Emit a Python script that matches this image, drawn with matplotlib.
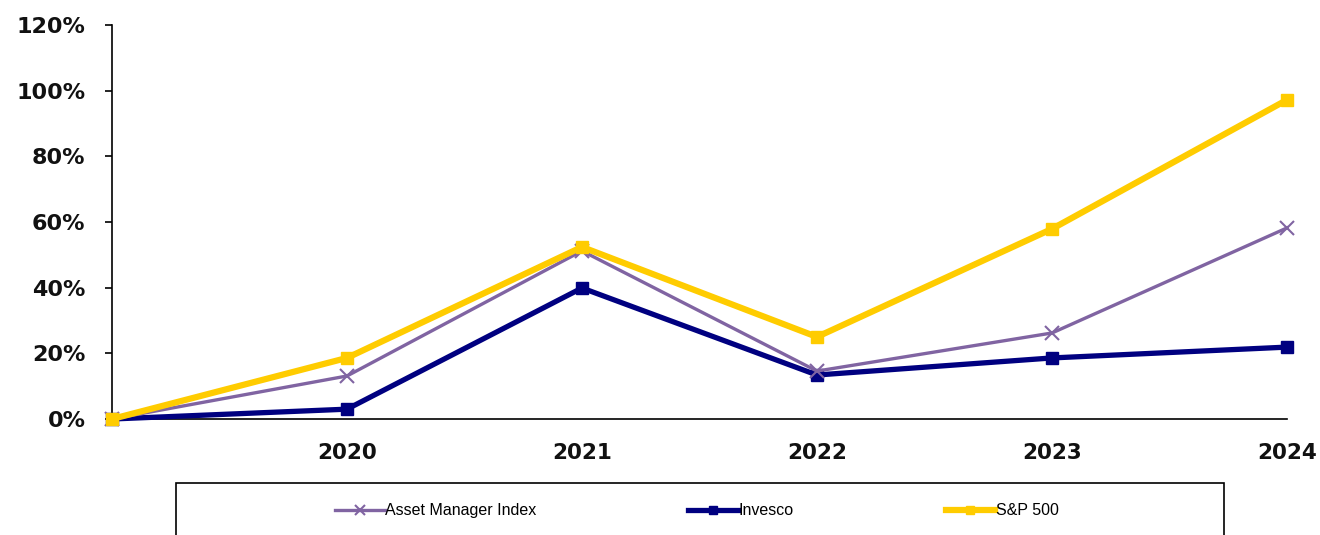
import numpy as np
import matplotlib.pyplot as plt
from matplotlib.patches import Rectangle
from matplotlib.ticker import PercentFormatter

# ---------------- datos ----------------
anios = [2019, 2020, 2021, 2022, 2023, 2024]
etiquetas_x = ['', '2020', '2021', '2022', '2023', '2024']
asset_mgr = [0.0, 13.1, 51.2, 14.6, 26.2, 58.2]
invesco = [0.0, 3.0, 39.9, 13.4, 18.6, 21.9]
sp500 = [0.0, 18.6, 52.4, 25.0, 57.9, 97.2]

# ---------------- figura ----------------
fig = plt.figure(figsize=(13.2, 5.35), dpi=100)
ax = fig.add_axes([0.0848, 0.2168, 0.8902, 0.7365])

ax.plot(anios, np.array(invesco) / 100, color='#000080', lw=3.8, marker='s',
        ms=8, label='Invesco', zorder=3, clip_on=False)
ax.plot(anios, np.array(asset_mgr) / 100, color='#8064A2', lw=2.4, marker='x',
        ms=10, mew=1.5, label='Asset Manager Index', zorder=4, clip_on=False)
ax.plot(anios, np.array(sp500) / 100, color='#FFCC00', lw=4.5, marker='s',
        ms=8, label='S&P 500', zorder=5, clip_on=False)

ax.set_xlim(2019, 2024)
ax.set_ylim(0, 1.2)
ax.set_yticks(np.arange(0, 1.21, 0.2))
ax.yaxis.set_major_formatter(PercentFormatter(1.0, decimals=0))
ax.set_xticks(anios)
ax.set_xticklabels(etiquetas_x)

for s in ['top', 'right']:
    ax.spines[s].set_visible(False)
ax.spines['left'].set_linewidth(1.2)
ax.spines['bottom'].set_linewidth(1.2)
ax.tick_params(axis='x', length=0, pad=17, labelsize=15.5)
ax.tick_params(axis='y', length=5, width=1.2, pad=14, labelsize=16)
for lbl in ax.get_xticklabels() + ax.get_yticklabels():
    lbl.set_fontweight('bold')
    lbl.set_color('#111111')

# caja de leyenda
caja = Rectangle((0.1333, -0.02), 0.7939, 0.1177, transform=fig.transFigure,
                 fill=False, edgecolor='black', lw=1.2)
fig.patches.append(caja)

h, l = ax.get_legend_handles_labels()
orden = [1, 0, 2]
fig.legend([h[i] for i in orden], [l[i] for i in orden], ncol=3,
           loc='center', bbox_to_anchor=(0.528, 0.0449), frameon=False,
           prop={'family': ['Liberation Sans Narrow', 'Liberation Sans', 'DejaVu Sans'], 'size': 11.5},
           handlelength=3.1, handletextpad=0.05, columnspacing=9.5, markerscale=0.7)

plt.savefig('out.png', dpi=100)
